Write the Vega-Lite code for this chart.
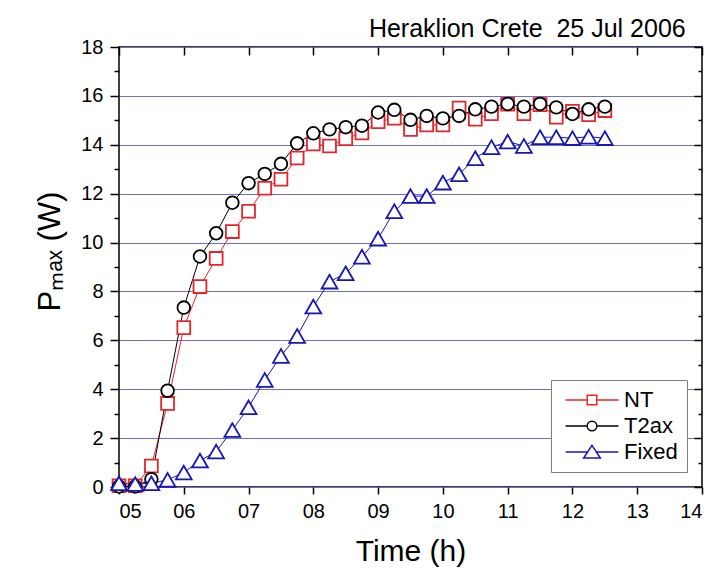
{
  "$schema": "https://vega.github.io/schema/vega-lite/v6.json",
  "width": 583,
  "height": 440,
  "autosize": {"type": "none"},
  "padding": {"left": 119, "top": 47, "right": 12, "bottom": 83},
  "background": "white",
  "title": {"text": "Heraklion Crete\u00a0 25 Jul 2006", "anchor": "end", "fontSize": 25, "font": "Liberation Sans", "fontWeight": "normal", "color": "black", "offset": -5, "dx": -17},
  "config": {
    "view": {"stroke": "black", "strokeWidth": 1.5},
    "font": "Liberation Sans",
    "axis": {"labelFont": "Liberation Sans", "labelFontSize": 20, "labelColor": "black", "tickColor": "black", "tickWidth": 1.5, "domain": false, "grid": false, "titleFont": "Liberation Sans", "titleFontWeight": "normal", "titleColor": "black"},
    "legend": {"orient": "bottom-right", "offset": 15, "title": null, "strokeColor": "#808080", "fillColor": "white", "padding": 9, "symbolSize": 144, "symbolStrokeWidth": 1.5, "symbolOffset": 21, "labelOffset": 21, "labelFont": "Liberation Sans", "labelFontSize": 22, "labelColor": "black", "rowPadding": 4}
  },
  "data": {"values": [
    {"t": 5.0, "series": "NT", "p": 0.05}, {"t": 5.25, "series": "NT", "p": 0.05}, {"t": 5.5, "series": "NT", "p": 0.86}, {"t": 5.75, "series": "NT", "p": 3.42},
    {"t": 6.0, "series": "NT", "p": 6.52}, {"t": 6.25, "series": "NT", "p": 8.2}, {"t": 6.5, "series": "NT", "p": 9.35}, {"t": 6.75, "series": "NT", "p": 10.45},
    {"t": 7.0, "series": "NT", "p": 11.28}, {"t": 7.25, "series": "NT", "p": 12.22}, {"t": 7.5, "series": "NT", "p": 12.59}, {"t": 7.75, "series": "NT", "p": 13.46},
    {"t": 8.0, "series": "NT", "p": 14.03}, {"t": 8.25, "series": "NT", "p": 13.95}, {"t": 8.5, "series": "NT", "p": 14.25}, {"t": 8.75, "series": "NT", "p": 14.48},
    {"t": 9.0, "series": "NT", "p": 14.94}, {"t": 9.25, "series": "NT", "p": 15.09}, {"t": 9.5, "series": "NT", "p": 14.63}, {"t": 9.75, "series": "NT", "p": 14.81},
    {"t": 10.0, "series": "NT", "p": 14.81}, {"t": 10.25, "series": "NT", "p": 15.5}, {"t": 10.5, "series": "NT", "p": 15.05}, {"t": 10.75, "series": "NT", "p": 15.27},
    {"t": 11.0, "series": "NT", "p": 15.66}, {"t": 11.25, "series": "NT", "p": 15.27}, {"t": 11.5, "series": "NT", "p": 15.64}, {"t": 11.75, "series": "NT", "p": 15.13},
    {"t": 12.0, "series": "NT", "p": 15.37}, {"t": 12.25, "series": "NT", "p": 15.23}, {"t": 12.5, "series": "NT", "p": 15.4},
    {"t": 5.0, "series": "T2ax", "p": 0.02}, {"t": 5.25, "series": "T2ax", "p": 0.02}, {"t": 5.5, "series": "T2ax", "p": 0.32}, {"t": 5.75, "series": "T2ax", "p": 3.94},
    {"t": 6.0, "series": "T2ax", "p": 7.34}, {"t": 6.25, "series": "T2ax", "p": 9.43}, {"t": 6.5, "series": "T2ax", "p": 10.38}, {"t": 6.75, "series": "T2ax", "p": 11.63},
    {"t": 7.0, "series": "T2ax", "p": 12.43}, {"t": 7.25, "series": "T2ax", "p": 12.81}, {"t": 7.5, "series": "T2ax", "p": 13.22}, {"t": 7.75, "series": "T2ax", "p": 14.06},
    {"t": 8.0, "series": "T2ax", "p": 14.47}, {"t": 8.25, "series": "T2ax", "p": 14.63}, {"t": 8.5, "series": "T2ax", "p": 14.72}, {"t": 8.75, "series": "T2ax", "p": 14.78},
    {"t": 9.0, "series": "T2ax", "p": 15.32}, {"t": 9.25, "series": "T2ax", "p": 15.43}, {"t": 9.5, "series": "T2ax", "p": 15.02}, {"t": 9.75, "series": "T2ax", "p": 15.18},
    {"t": 10.0, "series": "T2ax", "p": 15.08}, {"t": 10.25, "series": "T2ax", "p": 15.18}, {"t": 10.5, "series": "T2ax", "p": 15.45}, {"t": 10.75, "series": "T2ax", "p": 15.56},
    {"t": 11.0, "series": "T2ax", "p": 15.67}, {"t": 11.25, "series": "T2ax", "p": 15.56}, {"t": 11.5, "series": "T2ax", "p": 15.67}, {"t": 11.75, "series": "T2ax", "p": 15.53},
    {"t": 12.0, "series": "T2ax", "p": 15.26}, {"t": 12.25, "series": "T2ax", "p": 15.45}, {"t": 12.5, "series": "T2ax", "p": 15.56},
    {"t": 5.0, "series": "Fixed", "p": 0.15}, {"t": 5.25, "series": "Fixed", "p": 0.12}, {"t": 5.5, "series": "Fixed", "p": 0.15}, {"t": 5.75, "series": "Fixed", "p": 0.29},
    {"t": 6.0, "series": "Fixed", "p": 0.59}, {"t": 6.25, "series": "Fixed", "p": 1.08}, {"t": 6.5, "series": "Fixed", "p": 1.45}, {"t": 6.75, "series": "Fixed", "p": 2.33},
    {"t": 7.0, "series": "Fixed", "p": 3.26}, {"t": 7.25, "series": "Fixed", "p": 4.38}, {"t": 7.5, "series": "Fixed", "p": 5.36}, {"t": 7.75, "series": "Fixed", "p": 6.18},
    {"t": 8.0, "series": "Fixed", "p": 7.38}, {"t": 8.25, "series": "Fixed", "p": 8.4}, {"t": 8.5, "series": "Fixed", "p": 8.74}, {"t": 8.75, "series": "Fixed", "p": 9.42},
    {"t": 9.0, "series": "Fixed", "p": 10.16}, {"t": 9.25, "series": "Fixed", "p": 11.28}, {"t": 9.5, "series": "Fixed", "p": 11.9}, {"t": 9.75, "series": "Fixed", "p": 11.9},
    {"t": 10.0, "series": "Fixed", "p": 12.45}, {"t": 10.25, "series": "Fixed", "p": 12.79}, {"t": 10.5, "series": "Fixed", "p": 13.45}, {"t": 10.75, "series": "Fixed", "p": 13.9},
    {"t": 11.0, "series": "Fixed", "p": 14.13}, {"t": 11.25, "series": "Fixed", "p": 13.95}, {"t": 11.5, "series": "Fixed", "p": 14.31}, {"t": 11.75, "series": "Fixed", "p": 14.31},
    {"t": 12.0, "series": "Fixed", "p": 14.27}, {"t": 12.25, "series": "Fixed", "p": 14.33}, {"t": 12.5, "series": "Fixed", "p": 14.27}
  ]},
  "resolve": {"axis": {"x": "independent", "y": "independent"}},
  "layer": [
    {
      "transform": [{"filter": "false"}],
      "mark": {"type": "point", "filled": true, "fill": "white", "strokeWidth": 1.5, "opacity": 1},
      "encoding": {
        "x": {"field": "t", "type": "quantitative", "axis": null},
        "y": {"field": "p", "type": "quantitative", "axis": null},
        "stroke": {"field": "series", "type": "nominal", "scale": {"domain": ["NT", "T2ax", "Fixed"], "range": ["#e3262b", "#000000", "#1717b5"]}},
        "shape": {"field": "series", "type": "nominal", "scale": {"domain": ["NT", "T2ax", "Fixed"], "range": [
          "M-4.4,0H-0.8M0.8,0H4.4M-0.8,-0.8H0.8V0.8H-0.8Z",
          "M-4.4,0H-0.8M0.8,0H4.4M0.8,0A0.8,0.8,0,1,1,-0.8,0A0.8,0.8,0,1,1,0.8,0Z",
          "M-4.4,0H-0.73M0.73,0H4.4M0,-1.1L1.4,1H-1.4Z"
        ]}}
      }
    },
    {
      "mark": {"type": "line", "strokeWidth": 1},
      "encoding": {
        "x": {"field": "t", "type": "quantitative", "scale": {"domain": [5, 14], "nice": false, "zero": false},
              "axis": {"orient": "bottom", "values": [5, 6, 7, 8, 9, 10, 11, 12, 13, 14], "format": "02d", "tickSize": 7, "labelPadding": 7, "title": "Time (h)", "titleFontSize": 30, "titlePadding": 15}},
        "y": {"field": "p", "type": "quantitative", "scale": {"domain": [0, 18], "nice": false, "zero": true},
              "axis": {"orient": "left", "values": [0, 2, 4, 6, 8, 10, 12, 14, 16, 18], "tickSize": 9, "labelPadding": 7, "grid": true, "gridColor": "#7070c6", "gridWidth": 1, "title": "Pₘₐₓ (W)", "titleFontSize": 31, "titlePadding": 14, "titleY": 204}},
        "stroke": {"field": "series", "type": "nominal"}
      }
    },
    {
      "transform": [{"filter": {"field": "series", "equal": "NT"}}],
      "mark": {"type": "point", "shape": "square", "size": 165, "filled": true, "fill": "white", "strokeWidth": 1.8, "opacity": 1},
      "encoding": {
        "x": {"field": "t", "type": "quantitative", "axis": {"orient": "top", "values": [5, 6, 7, 8, 9, 10, 11, 12, 13, 14], "labels": false, "tickSize": 8, "offset": -8, "title": null}},
        "y": {"field": "p", "type": "quantitative", "axis": {"orient": "right", "values": [0, 2, 4, 6, 8, 10, 12, 14, 16, 18], "labels": false, "tickSize": 8, "offset": -8, "title": null}},
        "stroke": {"field": "series", "type": "nominal"}
      }
    },
    {
      "transform": [{"filter": {"field": "series", "equal": "T2ax"}}],
      "mark": {"type": "point", "shape": "circle", "size": 160, "filled": true, "fill": "white", "strokeWidth": 1.8, "opacity": 1},
      "encoding": {
        "x": {"field": "t", "type": "quantitative", "axis": null},
        "y": {"field": "p", "type": "quantitative", "axis": {"orient": "left", "values": [1, 3, 5, 7, 9, 11, 13, 15, 17], "labels": false, "tickSize": 5, "title": null}},
        "stroke": {"field": "series", "type": "nominal"}
      }
    },
    {
      "transform": [{"filter": {"field": "series", "equal": "Fixed"}}],
      "mark": {"type": "point", "shape": "triangle-up", "size": 250, "filled": true, "fill": "white", "strokeWidth": 1.8, "opacity": 1},
      "encoding": {
        "x": {"field": "t", "type": "quantitative", "axis": null},
        "y": {"field": "p", "type": "quantitative", "axis": {"orient": "right", "values": [1, 3, 5, 7, 9, 11, 13, 15, 17], "labels": false, "tickSize": 4, "offset": -4, "title": null}},
        "stroke": {"field": "series", "type": "nominal"}
      }
    }
  ]
}
